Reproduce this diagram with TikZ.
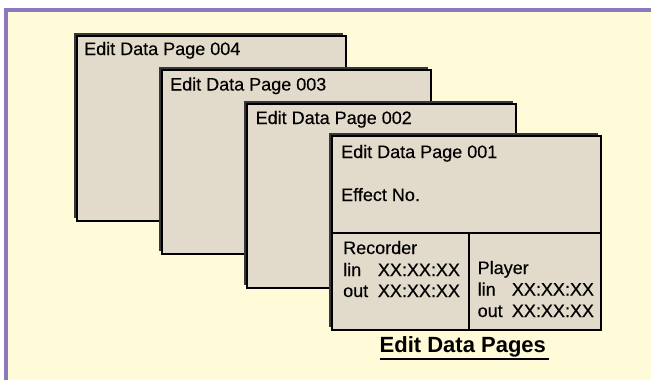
\documentclass[tikz,border=0pt]{standalone}
\usepackage{fontspec}
\setmainfont{Liberation Sans}
\newfontfamily\pagefont[FakeBold=0.35]{Liberation Sans}
\usetikzlibrary{shadows}
\definecolor{paper}{RGB}{255,250,215}
\definecolor{card}{RGB}{226,219,203}
\definecolor{framecol}{RGB}{140,120,190}
\definecolor{shade}{RGB}{55,55,55}
\tikzset{
  pagebox/.style={draw=black, line width=2.2bp, fill=card, rectangle, inner sep=0pt,
    anchor=north west, minimum width=269bp,
    general shadow={fill=shade, shadow xshift=-3bp, shadow yshift=3bp}},
  lbl/.style={inner sep=0pt, anchor=base west, font=\pagefont\fontsize{18bp}{21bp}\selectfont},
  titlelbl/.style={inner sep=0pt, anchor=base west, font=\fontsize{22bp}{26bp}\selectfont\bfseries},
  divider/.style={draw=black, line width=2.2bp},
}
\begin{document}
\begin{tikzpicture}[x=1bp, y=-1bp]
  \useasboundingbox (0,0) rectangle (651,379);
  \clip (0,0) rectangle (651,379);
  % panel background and its purple frame
  \fill[white] (0,0) rectangle (651,379);
  \fill[paper] (6,10) rectangle (660,390);
  \draw[framecol, line width=4bp] (6,390) -- (6,10) -- (660,10);

  % stacked pages, back to front
  \node[pagebox, minimum height=185bp] (p4) at (76,35) {};
  \node[lbl] (t4) at (84,55) {Edit Data Page 004};

  \node[pagebox, minimum height=184bp] (p3) at (161,69) {};
  \node[lbl] (t3) at (170,90.5) {Edit Data Page 003};

  \node[pagebox, minimum height=184bp] (p2) at (246,103) {};
  \node[lbl] (t2) at (255.5,124) {Edit Data Page 002};

  \node[pagebox, minimum height=194bp] (p1) at (331,135) {};
  \node[lbl] (t1) at (341,158) {Edit Data Page 001};
  \node[lbl] (eff) at (341,201) {Effect No.};

  % split of the front page
  \coordinate (hl) at (331,233);
  \coordinate (hr) at (600,233);
  \coordinate (vt) at (469,233);
  \coordinate (vb) at (469,329);
  \draw[divider] (hl) -- (hr);
  \draw[divider] (vt) -- (vb);

  % recorder times
  \node[lbl] (rec) at (343,254) {Recorder};
  \node[lbl] (recin) at (343,276) {\makebox[34.7bp][l]{lin}XX:XX:XX};
  \node[lbl] (recout) at (343,297) {\makebox[34.7bp][l]{out}XX:XX:XX};

  % player times
  \node[lbl] (ply) at (477.5,274) {Player};
  \node[lbl] (plyin) at (477.5,295.5) {\makebox[34.2bp][l]{lin}XX:XX:XX};
  \node[lbl] (plyout) at (477.5,317) {\makebox[34.2bp][l]{out}XX:XX:XX};

  % caption
  \node[titlelbl] (title) at (379.5,352.5) {Edit Data Pages};
  \draw[line width=1.8bp] ([yshift=-6.5bp]title.base west) -- ([xshift=3bp,yshift=-6.5bp]title.base east);
\end{tikzpicture}
\end{document}
